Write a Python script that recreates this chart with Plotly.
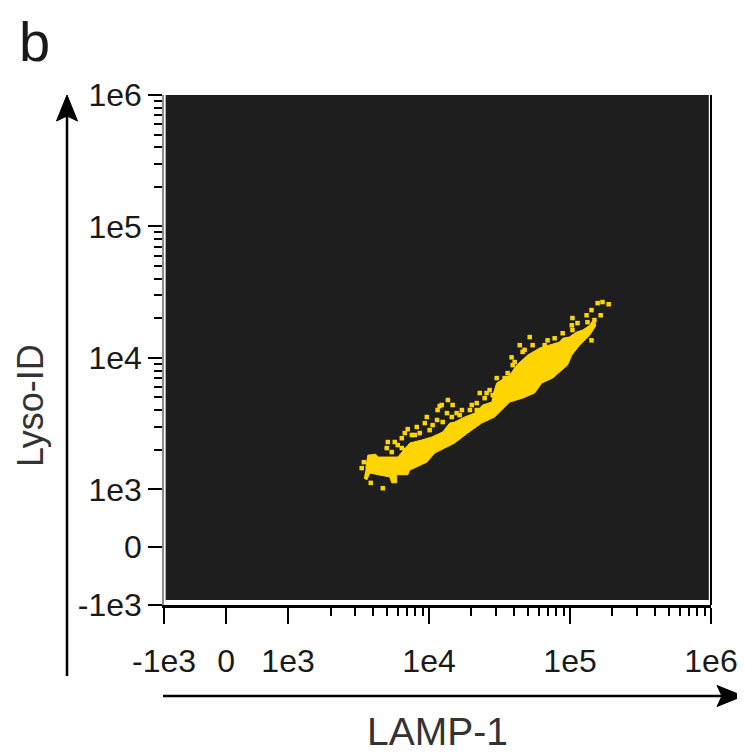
import numpy as np
import plotly.graph_objects as go

# ---------------- data ----------------
# outline of the dense body of the population: (LAMP-1, Lyso-ID)
body_lamp1 = [3.56e3, 3.68e3, 4.19e3, 4.33e3, 6.00e3, 7.30e3, 8.87e3, 1.045e4, 1.25e4, 1.40e4,
              1.52e4, 1.79e4, 2.11e4, 2.40e4, 2.79e4, 2.88e4, 3.02e4, 3.73e4, 4.19e4, 5.01e4, 6.10e4,
              7.41e4, 8.44e4, 8.87e4, 9.9e4, 1.11e5, 1.23e5, 1.38e5, 1.49e5,
              1.52e5, 1.38e5, 1.17e5, 1.03e5, 9.6e4, 8.44e4, 7.53e4, 6.30e4, 5.61e4, 4.61e4,
              3.73e4, 2.92e4, 2.36e4, 1.88e4, 1.52e4, 1.29e4, 1.10e4, 9.64e3, 8.18e3, 7.30e3,
              7.06e3, 5.90e3, 5.90e3, 5.44e3, 5.27e3, 4.33e3, 3.80e3, 3.62e3, 3.45e3]
body_lysoid = [1.45e3, 1.82e3, 1.85e3, 1.76e3, 1.76e3, 2.25e3, 2.37e3, 2.50e3, 2.73e3, 3.19e3,
               3.25e3, 3.55e3, 3.80e3, 4.38e3, 4.61e3, 5.50e3, 6.43e3, 7.40e3, 8.81e3, 1.05e4, 1.19e4,
               1.27e4, 1.32e4, 1.41e4, 1.44e4, 1.57e4, 1.63e4, 1.77e4, 2.01e4,
               1.75e4, 1.49e4, 1.25e4, 1.05e4, 8.81e3, 7.80e3, 7.02e3, 6.43e3, 5.40e3, 4.94e3,
               4.61e3, 3.55e3, 3.19e3, 2.68e3, 2.25e3, 2.06e3, 1.89e3, 1.61e3, 1.48e3, 1.40e3,
               1.29e3, 1.29e3, 1.12e3, 1.12e3, 1.24e3, 1.29e3, 1.33e3, 1.18e3, 1.22e3]

# sparse events around the body: (LAMP-1, Lyso-ID)
dots_lamp1 = [1.88e5, 1.70e5, 1.57e5, 1.42e5, 1.31e5, 1.65e5, 1.49e5, 1.04e5, 1.03e5, 1.13e5,
              1.33e5, 1.42e5, 8.87e4, 1.04e5, 6.93e4, 5.18e4, 4.40e4, 5.43e4, 4.61e4, 3.85e4,
              3.92e4, 3.61e4, 3.02e4, 2.56e4, 2.69e4, 2.29e4, 2.01e4, 2.18e4, 1.71e4, 1.47e4,
              1.36e4, 1.23e4, 1.15e4, 1.19e4, 1.25e4, 1.45e4, 9.64e3, 9.33e3, 1.01e4, 8.18e3,
              8.59e3, 7.92e3, 7.06e3, 6.73e3, 6.41e3, 5.71e3, 5.10e3, 5.01e3, 6.00e3, 5.44e3,
              6.41e3, 6.73e3, 3.45e3, 3.33e3, 3.86e3, 4.70e3, 7.55e3, 2.18e4,
              1.65e4, 1.95e4, 2.48e4, 2.83e4, 3.44e4, 4.05e4, 4.76e4, 6.61e4, 7.78e4, 1.06e4,
              1.14e4, 1.34e4, 1.57e4]
dots_lysoid = [2.56e4, 2.66e4, 2.61e4, 2.31e4, 2.11e4, 2.11e4, 1.94e4, 2.01e4, 1.77e4, 1.84e4,
               1.87e4, 1.36e4, 1.54e4, 1.63e4, 1.36e4, 1.44e4, 1.25e4, 1.25e4, 1.11e4, 1.01e4,
               8.81e3, 7.66e3, 7.02e3, 5.40e3, 5.69e3, 5.40e3, 4.38e3, 4.01e3, 4.01e3, 4.38e3,
               4.78e3, 4.38e3, 4.01e3, 4.30e3, 3.25e3, 3.55e3, 3.55e3, 3.19e3, 2.82e3, 2.98e3,
               2.68e3, 2.59e3, 2.87e3, 2.68e3, 2.45e3, 2.29e3, 2.29e3, 2.06e3, 2.17e3, 1.92e3,
               2.06e3, 1.99e3, 1.61e3, 1.45e3, 1.12e3, 1.02e3, 2.59e3, 4.53e3,
               3.67e3, 4.01e3, 4.94e3, 5.21e3, 7.02e3, 9.29e3, 1.15e4, 1.25e4, 1.41e4, 3.08e3,
               3.37e3, 3.80e3, 3.80e3]

major_vals = [-1e3, 0, 1e3, 1e4, 1e5, 1e6]
major_text = ["-1e3", "0", "1e3", "1e4", "1e5", "1e6"]
minor_vals = [m * 10 ** k for k in (3, 4, 5) for m in range(2, 10)]

# ---------------- biexponential-like display transform ----------------
LIN = 0.44  # width (in decades) of the linear zone 0..1e3


def tr(v):
    v = np.asarray(v, dtype=float)
    return np.where(v <= 1e3, v / 1e3 * LIN, LIN + np.log10(np.maximum(v, 1e-9) / 1e3))


GOLD = "#FFD500"
DARK = "#1e1e1e"
FONT = "Liberation Sans, Arial, sans-serif"

# page has an 8px body margin: design in page pixels, convert to figure pixels
OFF = 8
W, H = 745 - OFF, 756 - OFF
L_PX, R_PX, T_PX, B_PX = 164, 711, 95, 605      # plot area in page pixels
ML, MR, MT, MB = L_PX - OFF, W - (R_PX - OFF), T_PX - OFF, H - (B_PX - OFF)
PW, PH = R_PX - L_PX, B_PX - T_PX


def px(x):
    return (x - L_PX) / PW


def py(y):
    return (B_PX - y) / PH


fig = go.Figure()
fig.add_trace(go.Scatter(x=tr(body_lamp1), y=tr(body_lysoid), mode="lines", fill="toself",
                         fillcolor=GOLD, line=dict(color=GOLD, width=1), hoverinfo="skip",
                         showlegend=False))
fig.add_trace(go.Scatter(x=tr(dots_lamp1), y=tr(dots_lysoid), mode="markers",
                         marker=dict(symbol="square", size=4.5, color=GOLD, line=dict(width=0)),
                         showlegend=False))

rng = [-LIN, 3 + LIN]
axis_common = dict(range=rng, tickmode="array", tickvals=list(tr(major_vals)), ticktext=major_text,
                   showgrid=False, zeroline=False, ticks="outside", tickwidth=2, tickcolor="black",
                   automargin=False,
                   tickfont=dict(family=FONT, size=32, color="#1a1a1a"),
                   minor=dict(tickmode="array", tickvals=list(tr(minor_vals)), ticks="outside",
                              ticklen=8, tickwidth=2, tickcolor="black", showgrid=False))

fig.update_xaxes(**axis_common, ticklen=16, showline=True, linecolor="black", linewidth=3,
                 ticklabelstandoff=10)
fig.update_yaxes(**axis_common, ticklen=14, showline=True, linecolor="#8a8a8a", linewidth=1.5,
                 ticklabelstandoff=0)

shapes = [
    # dark plot field, slightly inset from the frame
    dict(type="rect", xref="x domain", yref="y domain", x0=0.003, x1=0.996, y0=0.01, y1=1.0,
         fillcolor=DARK, line=dict(width=0), layer="below"),
    # right frame line
    dict(type="line", xref="x domain", yref="y domain", x0=1.0, x1=1.0, y0=0, y1=1.0,
         line=dict(color="black", width=2)),
    # y arrow
    dict(type="line", xref="paper", yref="paper", x0=px(67), x1=px(67), y0=py(676), y1=py(112),
         line=dict(color="black", width=2.5)),
    dict(type="path", xref="paper", yref="paper",
         path=f"M {px(67)} {py(95)} L {px(56.5)} {py(121)} L {px(67)} {py(116)} L {px(77.5)} {py(121)} Z",
         fillcolor="black", line=dict(color="black", width=1)),
    # x arrow
    dict(type="line", xref="paper", yref="paper", x0=px(163), x1=px(724), y0=py(696), y1=py(696),
         line=dict(color="black", width=2.5)),
    dict(type="path", xref="paper", yref="paper",
         path=f"M {px(743)} {py(696)} L {px(717)} {py(685.5)} L {px(722)} {py(696)} L {px(717)} {py(706.5)} Z",
         fillcolor="black", line=dict(color="black", width=1)),
]

annotations = [
    dict(text="b", xref="paper", yref="paper", x=px(17), y=py(8.5), xanchor="left", yanchor="top",
         showarrow=False, font=dict(family=FONT, size=56, color="#1a1a1a")),
    dict(text="LAMP-1", xref="paper", yref="paper", x=px(437), y=py(755), xanchor="center",
         yanchor="bottom", showarrow=False,
         font=dict(family=FONT, size=39, color="#333333")),
    dict(text="Lyso-ID", xref="paper", yref="paper", x=px(30), y=py(406), xanchor="center",
         yanchor="middle", textangle=-90, showarrow=False,
         font=dict(family=FONT, size=36, color="#333333")),
]

fig.update_layout(width=W, height=H, margin=dict(l=ML, r=MR, t=MT, b=MB, autoexpand=False),
                  paper_bgcolor="white", plot_bgcolor="white", shapes=shapes,
                  annotations=annotations, showlegend=False)

fig.write_html("out.html")
